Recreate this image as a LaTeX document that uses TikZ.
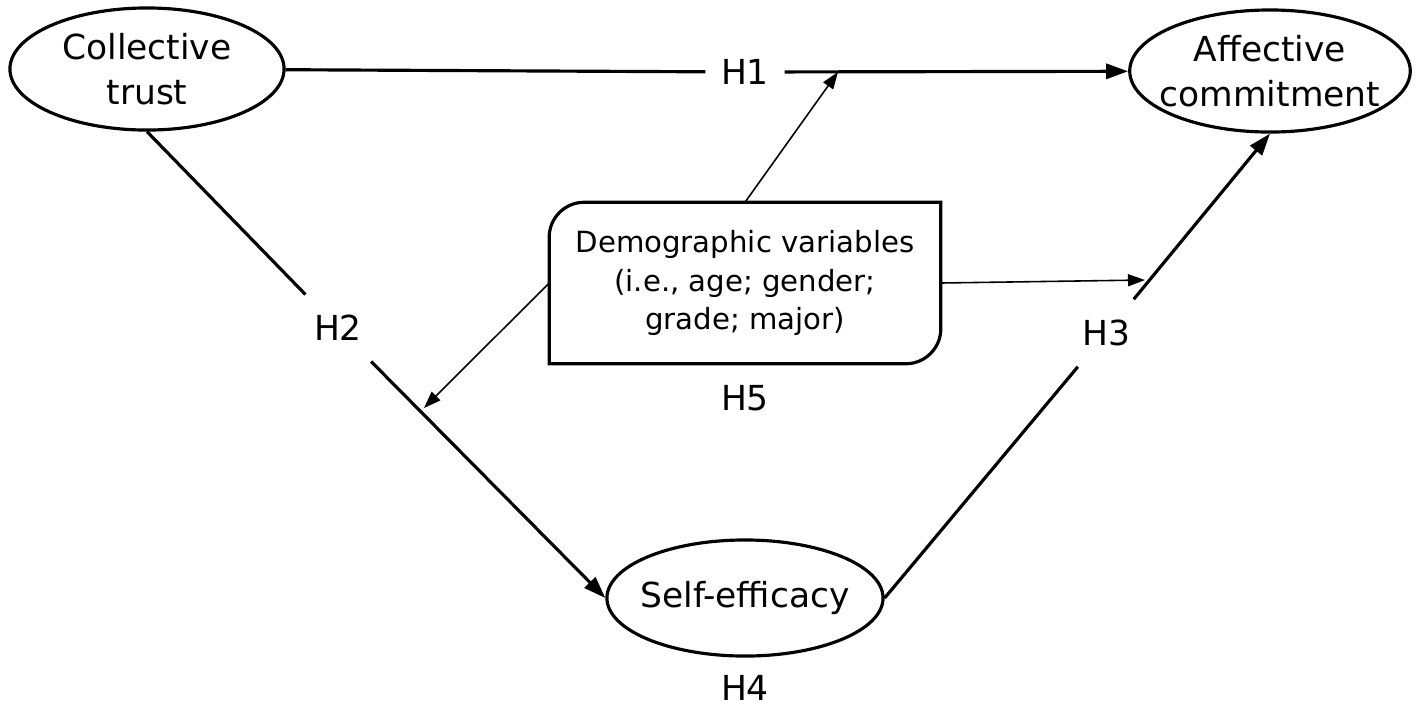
\documentclass[tikz,border=0pt]{standalone}
\usepackage{fontspec}
\setmainfont{DejaVu Sans}
\usetikzlibrary{arrows.meta, shapes.geometric, positioning, calc}

\begin{document}
\begin{tikzpicture}[x=0.01cm, y=-0.01cm,
  latent/.style={ellipse, draw, line width=0.9pt, inner xsep=-0.11cm, inner ysep=0pt,
    align=center, minimum width=2.74cm, minimum height=1.22cm,
    font=\fontsize{9.8}{12.8}\selectfont},
  hyp/.style={inner xsep=0.15cm, inner ysep=0.2cm, font=\fontsize{9.8}{12.8}\selectfont},
  mainline/.style={line width=0.9pt},
  mainarrow/.style={mainline, -{Triangle[length=0.22cm, width=0.15cm]}},
  modarrow/.style={line width=0.45pt, -{Triangle[length=0.17cm, width=0.12cm]}}]
\useasboundingbox (0,0) rectangle (1417,711);

% Constructs
\node[latent] (ct) at (147,69) {Collective\\trust};
\node[latent] (ac) at (1270,71) {Affective\\commitment};
\node[latent, minimum width=2.76cm, minimum height=1.16cm] (se) at (745,598) {Self-efficacy};

% Demographic box, rounded at two corners
\node[minimum width=3.9cm, minimum height=1.6cm, align=center,
  font=\fontsize{8.3}{10.9}\selectfont] (demo) at (745,283)
  {Demographic variables\\(i.e., age; gender;\\grade; major)};
\draw[mainline] (demo.south west) -- ([yshift=-0.35cm]demo.north west)
  arc[start angle=180, end angle=90, radius=0.35cm] -- (demo.north east)
  -- ([yshift=0.35cm]demo.south east)
  arc[start angle=0, end angle=-90, radius=0.35cm] -- cycle;

% Hypothesis labels
\node[hyp] (h1) at (745,72) {H1};
\node[hyp] (h2) at (338,328) {H2};
\node[hyp] (h3) at (1106,333) {H3};
\node[hyp] (h4) at (745,688) {H4};
\node[hyp] (h5) at (745,398) {H5};

% Main paths
\draw[mainline] (ct) -- (h1);
\draw[mainarrow] (h1) -- (ac);
\draw[mainline] (ct.south) -- (h2);
\draw[mainarrow] (h2) -- (se.west);
\draw[mainline] (se.east) -- (h3);
\draw[mainarrow] (h3) -- (ac.south);

% Moderation
\coordinate (m1) at (838,72);
\coordinate (m2) at (1145,280);
\coordinate (m3) at (424,408);
\draw[modarrow] (demo.north) -- (m1);
\draw[modarrow] (demo.east) -- (m2);
\draw[modarrow] (demo.west) -- (m3);

\end{tikzpicture}
\end{document}
